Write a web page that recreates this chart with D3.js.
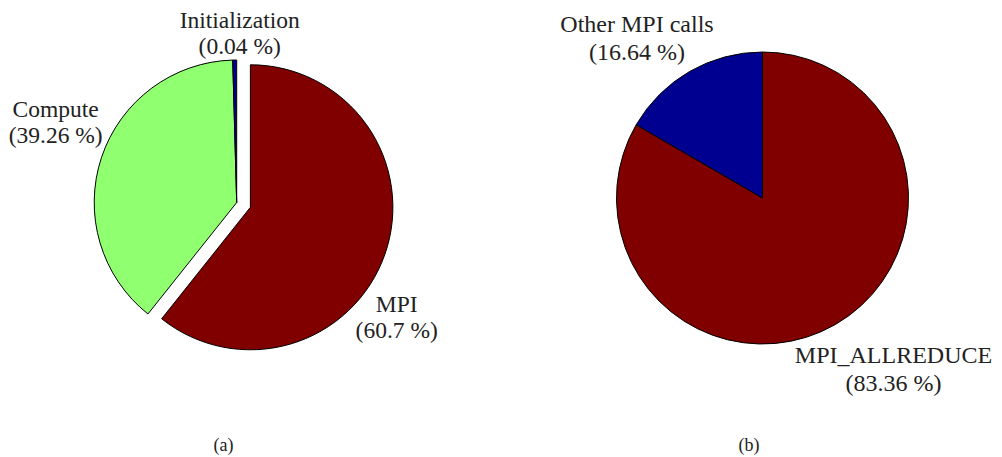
<!DOCTYPE html>
<html>
<head>
<meta charset="utf-8">
<script src="https://cdn.jsdelivr.net/npm/d3@7"></script>
<style>
  body { margin: 0; background: #fff; }
  svg text { font-family: "Liberation Serif", "DejaVu Serif", serif; fill: #222; }
</style>
</head>
<body>
<svg id="chart"></svg>
<script>
// chart (a): time breakdown
const catsA = ["MPI", "Compute", "Initialization"];
const valsA = [60.7, 39.26, 0.04];
const colorsA = ["#800000", "#90ff70", "#000090"];
const explodeA = [true, false, false];

// chart (b): MPI breakdown
const catsB = ["MPI_ALLREDUCE", "Other MPI calls"];
const valsB = [83.36, 16.64];
const colorsB = ["#800000", "#000090"];
const explodeB = [false, false];

const captions = ["(a)", "(b)"];

const width = 1002, height = 457;
const svg = d3.select("#chart").attr("width", width).attr("height", height);

// layout of each pie, label offsets relative to pie center
const layouts = [
  { cx: 236.7, cy: 202.5, r: 142.5, explode: 14.5, fontSize: 23.5, lineGap: 26,
    labelOffsets: [[160, 109.5], [-181, -85.5], [3, -174.5]], captionX: 223.5 },
  { cx: 762.5, cy: 198, r: 146, explode: 0, fontSize: 24, lineGap: 28,
    labelOffsets: [[131, 165], [-125.5, -166]], captionX: 749 }
];

const minAngle = 1.6 * Math.PI / 180; // keep very thin slices visible

function drawPie(cats, vals, colors, explode, lay, caption) {
  const slices = d3.pie().sort(null).value(d => d)(vals);
  // widen tiny slices a little so they stay visible
  slices.forEach((s, i) => {
    if (i > 0 && s.endAngle - s.startAngle < minAngle) {
      s.startAngle = s.endAngle - minAngle;
      slices[i - 1].endAngle = s.startAngle;
    }
  });

  const arc = d3.arc().innerRadius(0).outerRadius(lay.r);
  const g = svg.append("g").attr("transform", `translate(${lay.cx},${lay.cy})`);

  g.selectAll("path")
    .data(slices)
    .join("path")
      .attr("d", arc)
      .attr("fill", (d, i) => colors[i])
      .attr("stroke", "#000")
      .attr("stroke-width", 1)
      .attr("stroke-linejoin", "round")
      .attr("transform", (d, i) => {
        if (!explode[i]) return null;
        const mid = (d.startAngle + d.endAngle) / 2;
        return `translate(${lay.explode * Math.sin(mid)},${-lay.explode * Math.cos(mid)})`;
      });

  // labels: name + percentage
  const labels = g.selectAll("text.lbl")
    .data(slices)
    .join("text")
      .attr("class", "lbl")
      .attr("text-anchor", "middle")
      .attr("font-size", lay.fontSize)
      .attr("transform", (d, i) => `translate(${lay.labelOffsets[i][0]},${lay.labelOffsets[i][1]})`);
  labels.append("tspan").attr("x", 0).attr("y", 0).text((d, i) => cats[i]);
  labels.append("tspan").attr("x", 0).attr("y", lay.lineGap).text((d, i) => `(${vals[i]} %)`);

  svg.append("text")
    .attr("x", lay.captionX)
    .attr("y", 451)
    .attr("text-anchor", "middle")
    .attr("font-size", 18)
    .text(caption);
}

drawPie(catsA, valsA, colorsA, explodeA, layouts[0], captions[0]);
drawPie(catsB, valsB, colorsB, explodeB, layouts[1], captions[1]);
</script>
</body>
</html>
